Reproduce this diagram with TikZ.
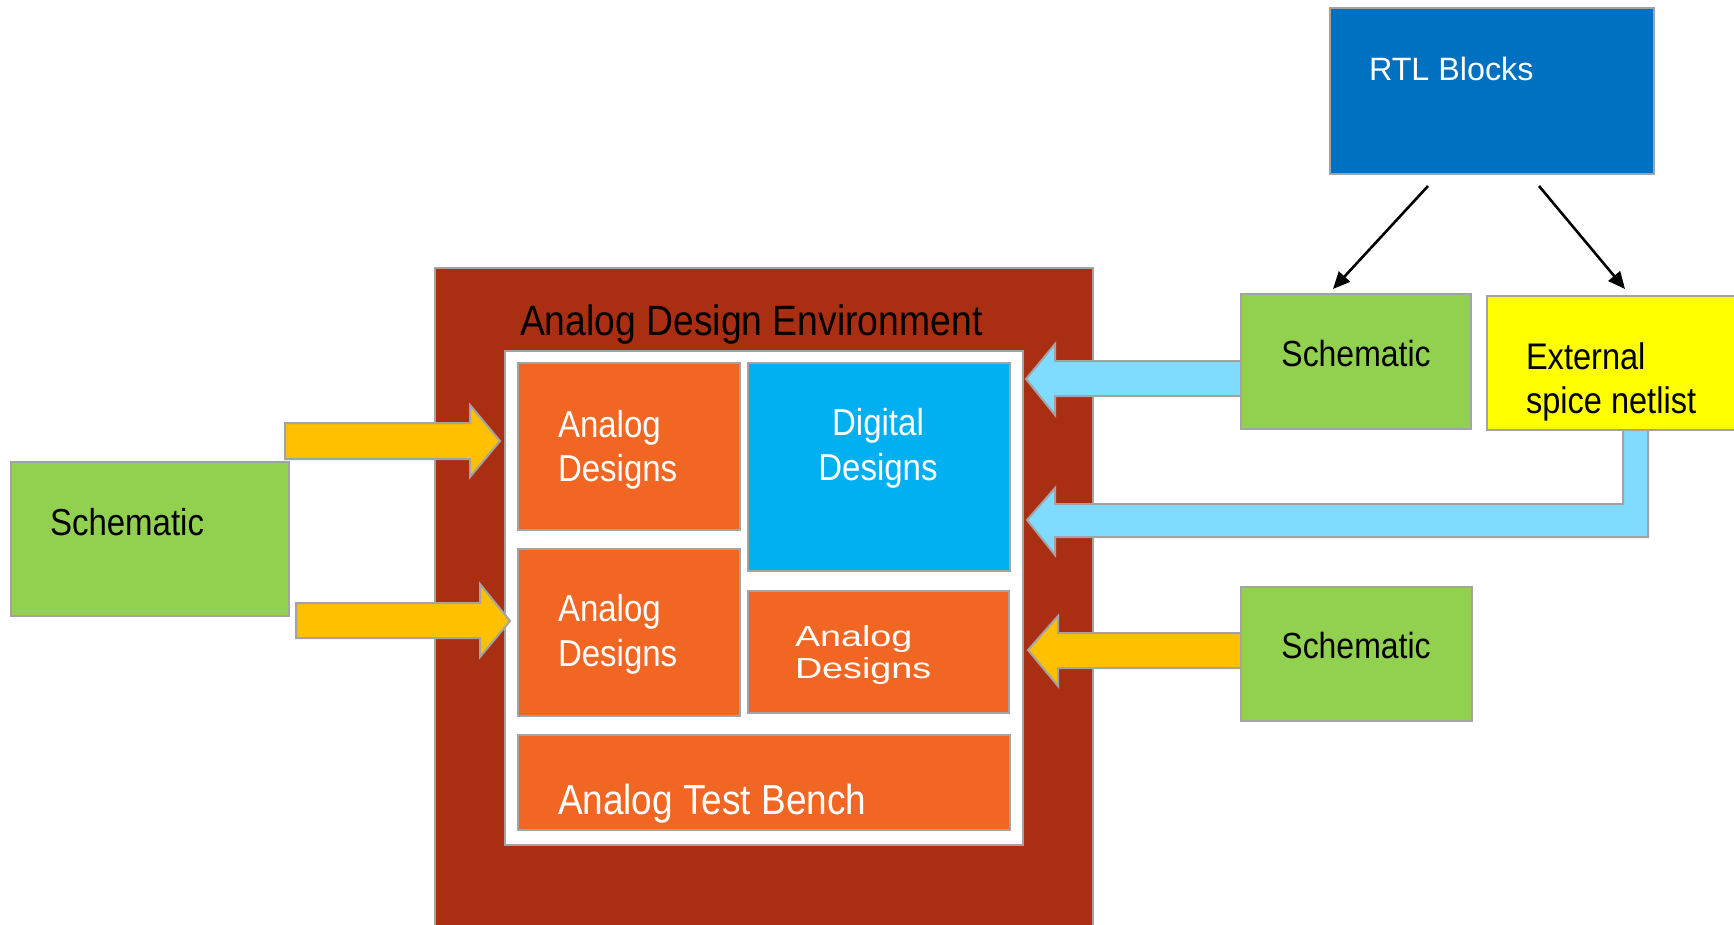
\documentclass[tikz,border=0pt]{standalone}
\usepackage{fontspec}
\setmainfont{Liberation Sans}
\newfontfamily\narrowsf{Liberation Sans}[FakeStretch=0.88]
\newfontfamily\widesf{Liberation Sans}[FakeStretch=1.3]
\usetikzlibrary{arrows.meta,calc}

\definecolor{envbrown}{RGB}{170,47,18}
\definecolor{blockorange}{RGB}{242,102,36}
\definecolor{digiblue}{RGB}{0,176,240}
\definecolor{rtlblue}{RGB}{0,112,192}
\definecolor{schgreen}{RGB}{146,208,80}
\definecolor{netyellow}{RGB}{255,255,0}
\definecolor{flowamber}{RGB}{255,192,0}
\definecolor{flowsky}{RGB}{128,220,255}
\definecolor{rim}{RGB}{163,163,163}

\tikzset{
  box/.style={draw=rim, line width=2.5pt, inner sep=0pt, outer sep=0pt, anchor=north west},
  flow/.style={draw=rim, line width=2pt, line join=miter},
  lbl/.style={inner sep=0pt, outer sep=0pt, anchor=base west},
  clbl/.style={inner sep=0pt, outer sep=0pt, anchor=base},
  thinarrow/.style={line width=2.6pt, -{Triangle[length=17pt,width=15pt]}},
}

\begin{document}
\begin{tikzpicture}[x=1pt,y=-1pt]
\useasboundingbox (0,0) rectangle (1734,924);
\clip (0,0) rectangle (1734,924);
\fill[white] (0,0) rectangle (1734,924);

% environment frame and its white panel
\node[box, fill=envbrown, minimum width=658, minimum height=680] (env) at (435,268) {};
\node[box, fill=white, minimum width=518, minimum height=494] (panel) at (505,351) {};
\node[lbl, font=\narrowsf\fontsize{42.4}{50}\selectfont] (envt) at (520,335) {Analog Design Environment};

% design blocks inside the panel
\node[box, fill=blockorange, minimum width=222, minimum height=167] (ad1) at (518,363) {};
\node[box, fill=digiblue, minimum width=262, minimum height=208] (dd) at (748,363) {};
\node[box, fill=blockorange, minimum width=222, minimum height=167] (ad2) at (518,549) {};
\node[box, fill=blockorange, minimum width=261, minimum height=122] (ad3) at (748,591) {};
\node[box, fill=blockorange, minimum width=492, minimum height=95] (atb) at (518,735) {};

\node[lbl, text=white, font=\narrowsf\fontsize{37.5}{44}\selectfont] (ad1a) at (558,437) {Analog};
\node[lbl, text=white, font=\narrowsf\fontsize{37.5}{44}\selectfont] (ad1b) at (558,481) {Designs};
\node[clbl, text=white, font=\narrowsf\fontsize{37.5}{44}\selectfont] (dda) at (878,435) {Digital};
\node[clbl, text=white, font=\narrowsf\fontsize{37.5}{44}\selectfont] (ddb) at (878,480) {Designs};
\node[lbl, text=white, font=\narrowsf\fontsize{37.5}{44}\selectfont] (ad2a) at (558,621) {Analog};
\node[lbl, text=white, font=\narrowsf\fontsize{37.5}{44}\selectfont] (ad2b) at (558,666) {Designs};
\node[lbl, text=white, font=\widesf\fontsize{29}{34}\selectfont] (ad3a) at (795,646) {Analog};
\node[lbl, text=white, font=\widesf\fontsize{29}{34}\selectfont] (ad3b) at (795,678) {Designs};
\node[lbl, text=white, font=\narrowsf\fontsize{42}{48}\selectfont] (atbt) at (558,814) {Analog Test Bench};

% block arrows feeding the environment
\draw[flow, fill=flowamber] (285,423) -- (470,423) -- (470,405) -- (500,441) -- (470,477) -- (470,459) -- (285,459) -- cycle;
\draw[flow, fill=flowamber] (296,603) -- (480,603) -- (480,584) -- (510,621) -- (480,657) -- (480,638) -- (296,638) -- cycle;
\draw[flow, fill=flowsky] (1245,361) -- (1055,361) -- (1055,344) -- (1026,379) -- (1055,415) -- (1055,396) -- (1245,396) -- cycle;
\draw[flow, fill=flowsky] (1623,427) -- (1623,504) -- (1055,504) -- (1055,488) -- (1027,520) -- (1055,555) -- (1055,537) -- (1648,537) -- (1648,427) -- cycle;
\draw[flow, fill=flowamber] (1245,633) -- (1058,633) -- (1058,616) -- (1028,650) -- (1058,686) -- (1058,668) -- (1245,668) -- cycle;

% source blocks
\node[box, fill=schgreen, minimum width=278, minimum height=154] (schL) at (11,462) {};
\node[lbl, font=\narrowsf\fontsize{37.5}{44}\selectfont] (schLt) at (50,535) {Schematic};

\node[box, fill=rtlblue, minimum width=324, minimum height=166] (rtl) at (1330,8) {};
\node[lbl, text=white, font=\fontsize{32.3}{38}\selectfont] (rtlt) at (1369,80) {RTL Blocks};

\node[box, fill=schgreen, minimum width=230, minimum height=135] (schT) at (1241,294) {};
\node[clbl, font=\narrowsf\fontsize{36.3}{42}\selectfont] (schTt) at (1356,366) {Schematic};

\node[box, fill=netyellow, minimum width=300, minimum height=134] (net) at (1487,296) {};
\node[lbl, font=\narrowsf\fontsize{37}{42}\selectfont] (neta) at (1526,369) {External};
\node[lbl, font=\narrowsf\fontsize{37}{42}\selectfont] (netb) at (1526,413) {spice netlist};

\node[box, fill=schgreen, minimum width=231, minimum height=134] (schB) at (1241,587) {};
\node[clbl, font=\narrowsf\fontsize{36.3}{42}\selectfont] (schBt) at (1356,658) {Schematic};

% RTL fan-out
\coordinate (rtlL) at (1428,186);
\coordinate (rtlR) at (1539,186);
\coordinate (schTin) at (1333,289);
\coordinate (netin) at (1625,289);
\draw[thinarrow] (rtlL) -- (schTin);
\draw[thinarrow] (rtlR) -- (netin);
\end{tikzpicture}
\end{document}
